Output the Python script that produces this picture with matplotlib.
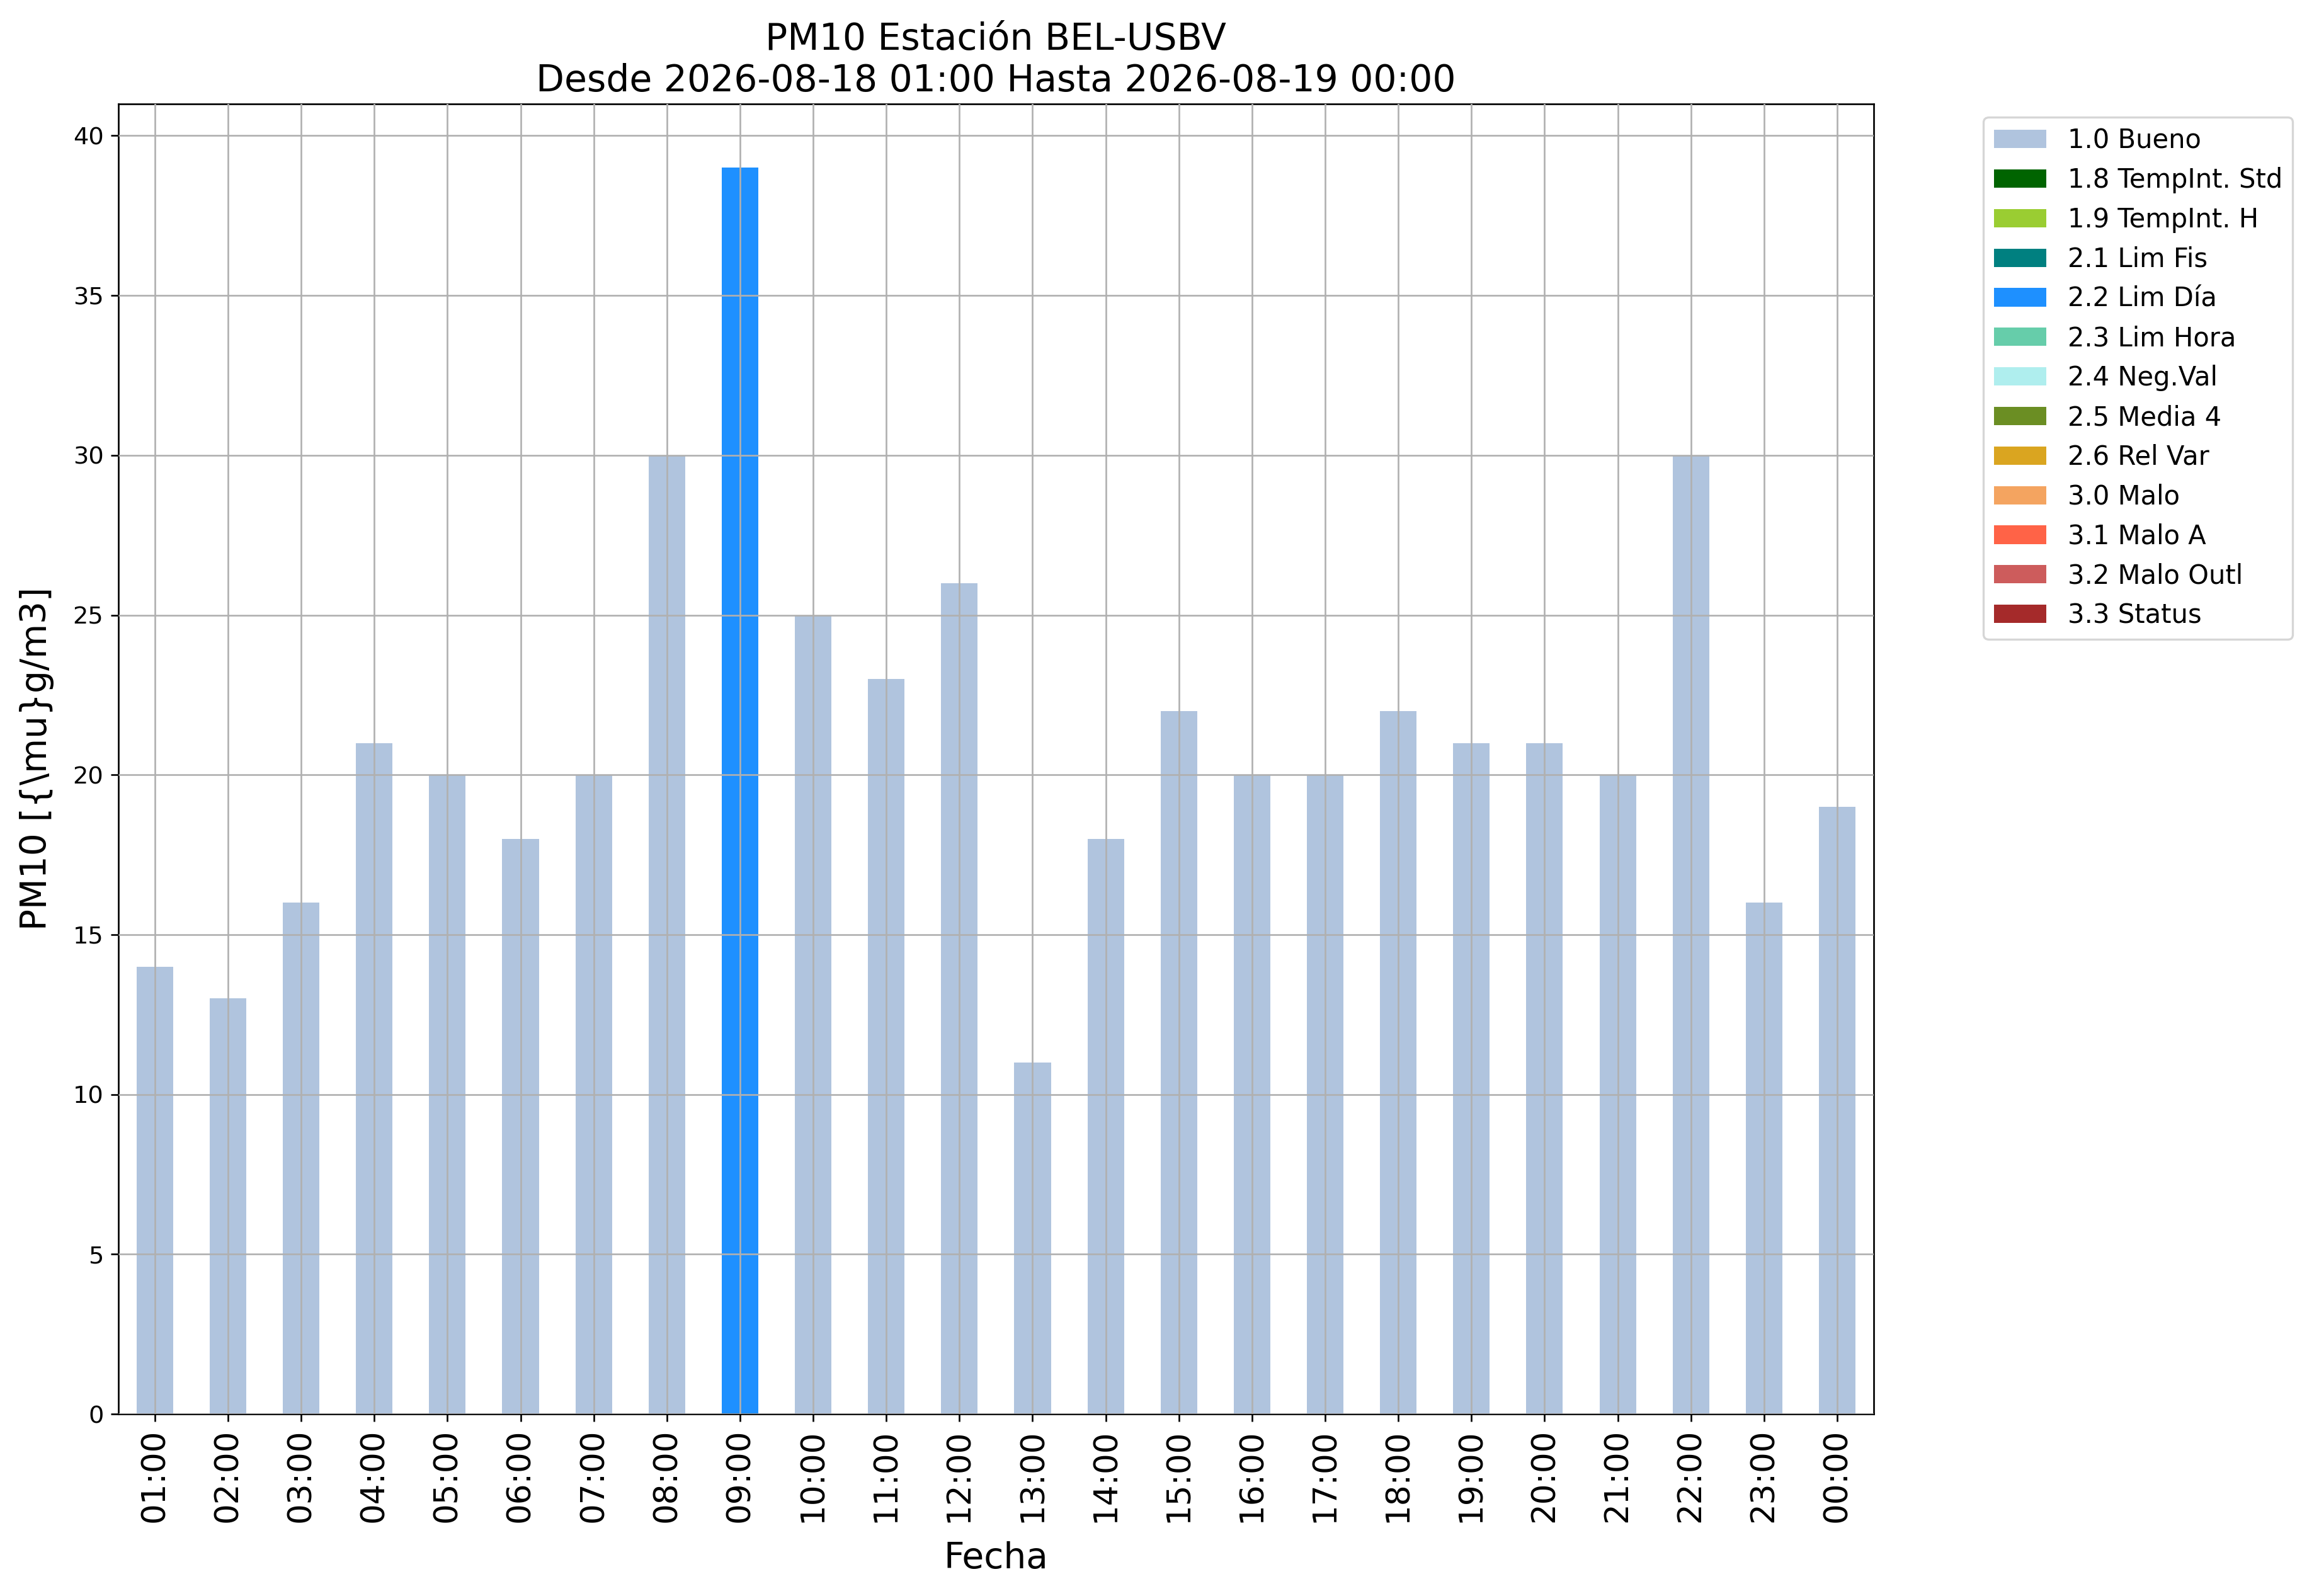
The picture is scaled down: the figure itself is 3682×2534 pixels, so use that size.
import matplotlib
matplotlib.use("Agg")
import matplotlib.pyplot as plt
from matplotlib.patches import Patch
import numpy as np

hours = ["01:00", "02:00", "03:00", "04:00", "05:00", "06:00", "07:00", "08:00",
         "09:00", "10:00", "11:00", "12:00", "13:00", "14:00", "15:00", "16:00",
         "17:00", "18:00", "19:00", "20:00", "21:00", "22:00", "23:00", "00:00"]
values = [14, 13, 16, 21, 20, 18, 20, 30, 39, 25, 23, 26, 11, 18, 22, 20,
          20, 22, 21, 21, 20, 30, 16, 19]
flags = ["1.0 Bueno"] * 8 + ["2.2 Lim Día"] + ["1.0 Bueno"] * 15

legend_labels = ["1.0 Bueno", "1.8 TempInt. Std", "1.9 TempInt. H", "2.1 Lim Fis",
                 "2.2 Lim Día", "2.3 Lim Hora", "2.4 Neg.Val", "2.5 Media 4",
                 "2.6 Rel Var", "3.0 Malo", "3.1 Malo A", "3.2 Malo Outl", "3.3 Status"]
legend_colors = ["lightsteelblue", "darkgreen", "yellowgreen", "teal", "dodgerblue",
                 "mediumaquamarine", "paleturquoise", "olivedrab", "goldenrod",
                 "sandybrown", "tomato", "indianred", "brown"]
color_map = dict(zip(legend_labels, legend_colors))

fig = plt.figure(figsize=(3682 / 240, 2534 / 240), dpi=240)
ax = fig.add_axes([0.051, 0.114, 0.757, 0.821])

x = np.arange(len(hours))
ax.bar(x, values, width=0.5, color=[color_map[f] for f in flags], zorder=1)
ax.set_xlim(-0.5, len(hours) - 0.5)
ax.set_xticks(x)
ax.set_xticklabels(hours, rotation=90, fontsize=15.5)
ax.tick_params(axis="y", labelsize=11.5)
ax.set_ylim(0, 41)
ax.grid(True, color="#b0b0b0", linewidth=0.8, zorder=2)
ax.set_axisbelow(False)
ax.set_xlabel("Fecha", fontsize=17, labelpad=9)
ax.set_ylabel("PM10 [{\\mu}g/m3]", fontsize=17, labelpad=9)
ax.set_title("PM10 Estación BEL-USBV\nDesde 2026-08-18 01:00 Hasta 2026-08-19 00:00", fontsize=17.5)

handles = [Patch(facecolor=c, label=l) for l, c in zip(legend_labels, legend_colors)]
ax.legend(handles=handles, loc="upper left", bbox_to_anchor=(1.055, 1.0), fontsize=12.5)

fig.savefig("out.png", dpi=240)
